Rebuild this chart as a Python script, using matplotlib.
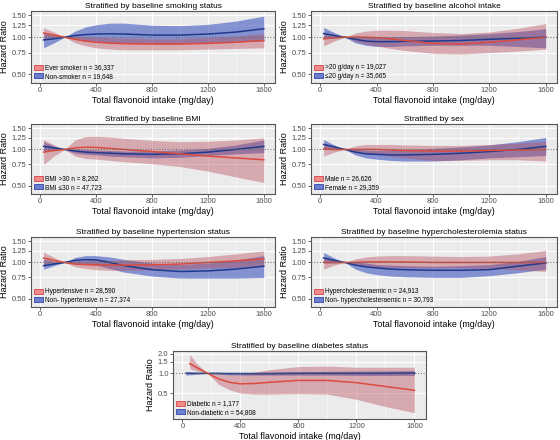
import matplotlib
matplotlib.use("Agg")
import matplotlib.pyplot as plt
from matplotlib.patches import Patch
from matplotlib.ticker import FixedLocator, NullFormatter

plt.rcParams['font.family'] = ['Liberation Sans', 'DejaVu Sans']

# flavonoid intake grid (mg/day)
x_main = [25, 100, 175, 250, 325, 400, 500, 600, 800, 1000, 1200, 1400, 1600]
x_diab = [50, 100, 175, 250, 325, 400, 500, 600, 800, 1000, 1200, 1400, 1600]

# smoking
smk_ever_hr = [1.08, 1.04, 1.00, 0.96, 0.93, 0.91, 0.895, 0.885, 0.88, 0.88, 0.89, 0.91, 0.94]
smk_ever_lo = [0.97, 0.99, 1.00, 0.90, 0.85, 0.82, 0.80, 0.79, 0.79, 0.79, 0.80, 0.81, 0.82]
smk_ever_hi = [1.19, 1.10, 1.00, 1.02, 1.01, 1.00, 0.99, 0.98, 0.97, 0.97, 0.99, 1.02, 1.07]
smk_non_hr = [0.95, 0.97, 1.00, 1.03, 1.05, 1.06, 1.065, 1.06, 1.04, 1.04, 1.06, 1.10, 1.17]
smk_non_lo = [0.82, 0.90, 1.00, 0.96, 0.93, 0.91, 0.90, 0.89, 0.88, 0.88, 0.90, 0.92, 0.93]
smk_non_hi = [1.10, 1.05, 1.00, 1.12, 1.21, 1.26, 1.30, 1.30, 1.25, 1.24, 1.27, 1.35, 1.48]

# alcohol
alc_hi_hr = [0.97, 0.99, 1.00, 1.00, 1.00, 0.99, 0.97, 0.94, 0.89, 0.88, 0.91, 0.95, 1.00]
alc_hi_lo = [0.85, 0.93, 1.00, 0.93, 0.88, 0.85, 0.81, 0.78, 0.74, 0.73, 0.75, 0.77, 0.80]
alc_hi_hi = [1.10, 1.05, 1.00, 1.08, 1.12, 1.14, 1.14, 1.13, 1.09, 1.07, 1.10, 1.18, 1.29]
alc_lo_hr = [1.07, 1.03, 1.00, 0.96, 0.93, 0.92, 0.92, 0.925, 0.93, 0.94, 0.96, 0.98, 1.00]
alc_lo_lo = [0.97, 0.98, 1.00, 0.90, 0.86, 0.84, 0.84, 0.85, 0.86, 0.86, 0.86, 0.84, 0.82]
alc_lo_hi = [1.20, 1.09, 1.00, 1.02, 1.01, 1.00, 1.01, 1.01, 1.02, 1.04, 1.07, 1.11, 1.17]

# BMI
bmi_hi_hr = [0.95, 0.98, 1.00, 1.03, 1.045, 1.04, 1.02, 1.00, 0.96, 0.92, 0.88, 0.85, 0.82]
bmi_hi_lo = [0.75, 0.88, 1.00, 0.88, 0.84, 0.83, 0.81, 0.79, 0.76, 0.72, 0.66, 0.59, 0.53]
bmi_hi_hi = [1.21, 1.09, 1.00, 1.20, 1.28, 1.29, 1.27, 1.24, 1.19, 1.16, 1.17, 1.20, 1.25]
bmi_lo_hr = [1.06, 1.03, 1.00, 0.97, 0.95, 0.94, 0.93, 0.92, 0.91, 0.92, 0.95, 1.00, 1.06]
bmi_lo_lo = [0.97, 0.99, 1.00, 0.93, 0.91, 0.90, 0.88, 0.87, 0.85, 0.86, 0.89, 0.92, 0.94]
bmi_lo_hi = [1.16, 1.07, 1.00, 1.01, 1.00, 0.99, 0.98, 0.97, 0.97, 0.99, 1.02, 1.09, 1.20]

# sex
male_hr = [1.01, 1.00, 1.00, 1.00, 1.00, 1.00, 0.99, 0.98, 0.97, 0.97, 0.98, 0.99, 1.00]
male_lo = [0.88, 0.95, 1.00, 0.94, 0.92, 0.91, 0.88, 0.85, 0.81, 0.81, 0.82, 0.82, 0.80]
male_hi = [1.14, 1.05, 1.00, 1.07, 1.10, 1.10, 1.10, 1.09, 1.08, 1.08, 1.10, 1.13, 1.17]
female_hr = [1.10, 1.05, 1.00, 0.95, 0.92, 0.91, 0.90, 0.90, 0.91, 0.93, 0.96, 1.00, 1.06]
female_lo = [1.00, 1.02, 1.00, 0.90, 0.85, 0.83, 0.81, 0.80, 0.80, 0.82, 0.85, 0.87, 0.89]
female_hi = [1.21, 1.09, 1.00, 1.01, 0.99, 0.98, 0.99, 1.00, 1.02, 1.05, 1.09, 1.16, 1.26]

# hypertension
htn_hr = [1.09, 1.04, 1.00, 0.97, 0.96, 0.955, 0.95, 0.95, 0.955, 0.97, 1.00, 1.03, 1.07]
htn_lo = [0.96, 0.98, 1.00, 0.92, 0.89, 0.87, 0.86, 0.86, 0.87, 0.88, 0.90, 0.91, 0.93]
htn_hi = [1.22, 1.10, 1.00, 1.03, 1.03, 1.04, 1.04, 1.05, 1.06, 1.08, 1.12, 1.18, 1.25]
nohtn_hr = [0.94, 0.97, 1.00, 1.04, 1.055, 1.05, 1.00, 0.94, 0.87, 0.84, 0.85, 0.88, 0.93]
nohtn_lo = [0.88, 0.94, 1.00, 0.97, 0.96, 0.95, 0.89, 0.83, 0.77, 0.74, 0.74, 0.74, 0.75]
nohtn_hi = [1.07, 1.02, 1.00, 1.10, 1.14, 1.14, 1.11, 1.06, 0.99, 0.96, 0.99, 1.05, 1.14]

# hypercholesterolemia
chol_hr = [1.00, 1.00, 1.00, 1.00, 1.01, 1.01, 1.01, 1.01, 1.00, 1.00, 1.00, 1.00, 1.00]
chol_lo = [0.88, 0.95, 1.00, 0.95, 0.93, 0.92, 0.91, 0.90, 0.90, 0.90, 0.89, 0.87, 0.84]
chol_hi = [1.12, 1.05, 1.00, 1.07, 1.11, 1.13, 1.14, 1.14, 1.13, 1.12, 1.13, 1.18, 1.26]
nochol_hr = [1.09, 1.04, 1.00, 0.95, 0.92, 0.90, 0.88, 0.87, 0.86, 0.86, 0.87, 0.93, 0.99]
nochol_lo = [0.99, 0.99, 1.00, 0.88, 0.82, 0.79, 0.77, 0.76, 0.75, 0.75, 0.775, 0.82, 0.88]
nochol_hi = [1.21, 1.09, 1.00, 1.02, 0.99, 0.96, 0.95, 0.94, 0.93, 0.94, 0.96, 1.02, 1.12]

# diabetes
diab_hr = [1.41, 1.22, 1.00, 0.82, 0.73, 0.69, 0.70, 0.73, 0.78, 0.78, 0.72, 0.63, 0.55]
diab_lo = [1.18, 1.08, 1.00, 0.68, 0.56, 0.50, 0.48, 0.48, 0.49, 0.48, 0.40, 0.31, 0.25]
diab_hi = [1.95, 1.40, 1.00, 0.99, 0.96, 0.95, 1.05, 1.14, 1.27, 1.29, 1.24, 1.24, 1.24]
nodiab_hr = [1.00, 1.00, 1.00, 1.00, 0.99, 0.99, 0.99, 0.99, 1.00, 1.00, 1.00, 1.00, 1.01]
nodiab_lo = [0.94, 0.97, 1.00, 0.97, 0.95, 0.94, 0.94, 0.94, 0.94, 0.94, 0.93, 0.93, 0.93]
nodiab_hi = [1.07, 1.03, 1.00, 1.03, 1.04, 1.04, 1.04, 1.05, 1.06, 1.07, 1.08, 1.09, 1.10]

titles = [
    "Stratified by baseline smoking status",
    "Stratified by baseline alcohol intake",
    "Stratified by baseline BMI",
    "Stratified by sex",
    "Stratified by baseline hypertension status",
    "Stratified by baseline hypercholesterolemia status",
    "Stratified by baseline diabetes status",
]
legend_labels = [
    ["Ever smoker n = 36,337", "Non-smoker n = 19,648"],
    [">20 g/day n = 19,027", "\u226420 g/day n = 35,665"],
    ["BMI >30 n = 8,262", "BMI \u226430 n = 47,723"],
    ["Male n = 26,626", "Female n = 29,359"],
    ["Hypertensive n = 28,590", "Non- hypertensive n = 27,374"],
    ["Hypercholesteraemic n = 24,913", "Non- hypercholesteraemic n = 30,793"],
    ["Diabetic n = 1,177", "Non-diabetic n = 54,808"],
]
x_ticks = [0, 400, 800, 1200, 1600]
y_ticks = [0.50, 0.75, 1.00, 1.25, 1.50]
y_ticks_diab = [0.5, 1.0, 1.5, 2.0]

panels = [
    (x_main, smk_ever_hr, smk_ever_lo, smk_ever_hi, x_main, smk_non_hr, smk_non_lo, smk_non_hi),
    (x_main, alc_hi_hr, alc_hi_lo, alc_hi_hi, x_main, alc_lo_hr, alc_lo_lo, alc_lo_hi),
    (x_main, bmi_hi_hr, bmi_hi_lo, bmi_hi_hi, x_main, bmi_lo_hr, bmi_lo_lo, bmi_lo_hi),
    (x_main, male_hr, male_lo, male_hi, x_main, female_hr, female_lo, female_hi),
    (x_main, htn_hr, htn_lo, htn_hi, x_main, nohtn_hr, nohtn_lo, nohtn_hi),
    (x_main, chol_hr, chol_lo, chol_hi, x_main, nochol_hr, nochol_lo, nochol_hi),
    (x_diab, diab_hr, diab_lo, diab_hi, x_main, nodiab_hr, nodiab_lo, nodiab_hi),
]

W, H = 560, 440
# axes boxes in pixels: left, right, top, bottom
boxes = [
    (31, 275, 11, 83), (311, 557, 11, 83),
    (31, 275, 124, 194), (311, 557, 124, 194),
    (31, 275, 237, 307), (311, 557, 237, 307),
    (173, 426, 351, 419),
]

RED_LINE = "#DC4B3E"
RED_FILL = "#B84E5C"
BLUE_LINE = "#1F3A8C"
BLUE_FILL = "#3F55C0"

fig = plt.figure(figsize=(5.6, 4.4), dpi=100)

for i, (box, data) in enumerate(zip(boxes, panels)):
    l, r, t, b = box
    ax = fig.add_axes([l / W, 1 - b / H, (r - l) / W, (b - t) / H])
    xr, hr_r, lo_r, hi_r, xb, hr_b, lo_b, hi_b = data

    ax.set_facecolor("#EBEBEB")
    ax.set_yscale("log")

    # blue band underneath, red band on top of it
    ax.fill_between(xb, lo_b, hi_b, color=BLUE_FILL, alpha=0.6, lw=0, zorder=2)
    ax.fill_between(xr, lo_r, hi_r, color=RED_FILL, alpha=0.42, lw=0, zorder=3)
    ax.plot(xb, hr_b, color=BLUE_LINE, lw=1.1, zorder=4)
    ax.plot(xr, hr_r, color=RED_LINE, lw=1.1, zorder=5)
    ax.axhline(1.0, color="#666666", lw=0.8, ls=(0, (1, 1.5)), zorder=6)

    ax.set_xlim(-65, 1680)
    if i == 6:
        ax.set_ylim(0.2, 2.2)
        yt = y_ticks_diab
        ylabels = ["%.1f" % v for v in yt]
    else:
        ax.set_ylim(0.425, 1.63)
        yt = y_ticks
        ylabels = ["%.2f" % v for v in yt]
    ax.yaxis.set_major_locator(FixedLocator(yt))
    ax.yaxis.set_minor_locator(FixedLocator([]))
    ax.yaxis.set_minor_formatter(NullFormatter())
    ax.set_yticklabels(ylabels)
    ax.set_xticks(x_ticks)
    ax.set_xticks([200, 600, 1000, 1400], minor=True)

    ax.grid(True, which="major", color="white", lw=0.8, zorder=0)
    ax.grid(True, which="minor", axis="x", color="white", lw=0.4, zorder=0)
    ax.set_axisbelow(True)

    ax.tick_params(axis="both", which="major", labelsize=5.5, colors="#4D4D4D",
                   length=2, width=0.6, pad=1.2)
    ax.tick_params(axis="both", which="minor", length=0)
    for sp in ax.spines.values():
        sp.set_color("#555555")
        sp.set_linewidth(0.8)

    ax.set_title(titles[i], fontsize=6.0, pad=2.5)
    ax.set_xlabel("Total flavonoid intake (mg/day)", fontsize=6.4, labelpad=1)
    ax.set_ylabel("Hazard Ratio", fontsize=6.5, labelpad=2)

    handles = [
        Patch(facecolor="#F08C8C", edgecolor="#D94040", lw=0.6, label=legend_labels[i][0]),
        Patch(facecolor="#6F7FCF", edgecolor="#3045A8", lw=0.6, label=legend_labels[i][1]),
    ]
    ax.legend(handles=handles, loc="lower left", fontsize=4.7, frameon=False,
              handlelength=1.4, handleheight=0.8, handletextpad=0.3,
              labelspacing=0.2, borderaxespad=0.3, borderpad=0.2)

fig.savefig("out.png", dpi=100, facecolor="white")
